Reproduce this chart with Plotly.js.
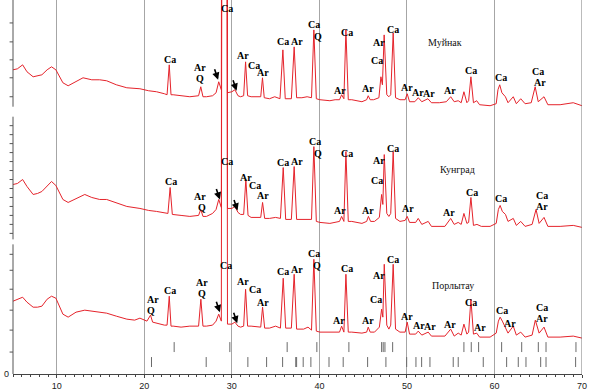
<!DOCTYPE html>
<html><head><meta charset="utf-8">
<script src="https://cdn.plot.ly/plotly-3.0.1.min.js"></script>
<style>html,body{margin:0;padding:0;background:#fff}#chart{width:595px;height:392px}</style>
</head><body><div id="chart"></div>
<script>
// 2-theta (deg) and intensity (shared stacked scale)
const muynakX = [5.0,5.5,6.1,6.6,7.3,7.8,8.3,8.9,9.4,9.9,10.7,11.3,12.0,13.0,14.0,14.9,15.7,16.8,18.0,19.5,20.5,21.4,22.3,22.6,22.85,23.05,23.3,24.2,25.2,26.2,26.45,26.7,27.1,27.8,28.2,28.5,28.8,29.17,29.5,30.0,30.35,30.7,31.0,31.35,31.57,31.8,32.2,33.3,33.5,33.7,34.3,34.9,35.5,35.83,36.1,36.8,37.12,37.4,38.0,38.6,39.1,39.37,39.65,40.06,41.2,41.8,42.3,42.54,42.8,43.03,43.3,43.7,44.86,45.4,45.58,45.8,46.2,46.8,47.03,47.2,47.4,47.7,47.94,48.15,48.43,48.7,49.2,49.8,50.03,50.3,50.9,51.3,51.7,52.4,52.8,53.7,54.5,55.0,55.4,55.86,56.2,56.51,56.85,57.05,57.31,57.6,57.97,58.3,59.5,60.2,60.4,60.6,60.85,61.25,61.55,62.15,62.5,63.0,63.5,64.2,64.65,65.0,65.66,66.1,67.5,69.0,70.0];
const muynakY = [305,306,310,303,298,299,300,305,308,305,292,289,292,297,295,295,294,290,287,286,284,283,281,280,310,280,280,279,278,279,288,278,278,279,282,293,285,3000,282,283,285,279,278,279,313,279,278,278,297,277,276,278,276,325,276,276,328,277,277,278,277,345,276,275,274,275,275,280,276,345,275,275,273,275,279,275,275,277,298,290,340,280,278,280,342,277,275,275,281,273,273,277,273,276,272,272,273,278,273,274,272,283,272,274,298,272,274,270,269,271,285,290,282,278,272,278,271,276,271,272,288,273,278,270,270,272,269];

const kungradX = [5.0,5.5,6.1,6.6,7.3,7.8,8.3,8.9,9.4,9.9,10.7,11.3,12.2,13.2,14.0,14.9,15.7,16.8,18.0,19.5,20.5,21.4,22.3,22.7,22.95,23.2,24.2,25.2,26.2,26.45,26.7,27.1,27.8,28.2,28.5,28.8,29.17,29.5,30.0,30.35,30.7,31.0,31.35,31.6,31.85,32.2,33.3,33.51,33.75,34.3,35.0,35.55,35.87,36.15,36.8,37.12,37.4,38.2,39.1,39.37,39.65,40.06,41.2,42.3,42.54,42.8,43.03,43.3,43.7,44.86,45.4,45.6,45.85,46.3,46.85,47.11,47.25,47.41,47.7,47.94,48.15,48.43,48.7,49.2,49.8,50.03,50.3,51.0,51.29,51.7,52.43,52.8,54.34,55.0,55.4,55.86,56.2,56.51,56.85,57.05,57.31,57.6,58.0,58.5,59.5,60.2,60.45,60.65,60.9,61.26,61.55,62.15,62.5,63.0,63.5,64.3,64.75,65.1,65.66,66.1,67.5,69.0,70.0];
const kungradY = [190,191,195,188,180,181,183,189,193,189,175,172,176,180,177,175,175,172,168,166,164,163,162,161,187,160,159,158,159,165,158,158,161,165,175,167,3000,166,166,168,162,160,160,195,159,157,157,172,156,156,157,156,207,155,155,208,155,155,155,228,153,152,151,153,158,153,223,153,153,151,153,158,153,153,157,180,170,220,161,158,161,223,156,153,154,158,152,152,156,150,153,148,148,156,150,152,150,161,151,152,177,149,150,148,148,151,165,169,163,160,153,156,149,153,148,150,165,151,157,148,148,149,147];

const porlytauX = [5.0,5.5,6.1,6.6,7.3,7.8,8.3,8.9,9.4,9.9,10.7,11.3,12.2,13.2,14.3,15.7,16.8,18.0,18.9,19.5,20.3,20.71,20.95,21.8,22.3,22.6,22.85,23.05,23.3,24.2,25.2,26.2,26.46,26.7,27.1,27.8,28.2,28.5,28.8,29.17,29.5,30.0,30.35,30.7,31.0,31.35,31.57,31.8,32.2,33.3,33.51,33.75,34.3,35.0,35.55,35.87,36.15,36.8,37.12,37.4,38.2,38.7,39.1,39.37,39.65,40.06,41.2,42.3,42.54,42.8,43.03,43.3,43.7,44.86,45.4,45.58,45.8,46.3,46.85,47.11,47.25,47.41,47.7,47.94,48.15,48.43,48.7,49.2,49.8,50.03,50.3,51.0,51.29,51.7,52.43,52.8,54.34,55.0,55.4,55.86,56.2,56.51,56.85,57.05,57.31,57.6,57.97,58.3,59.5,60.2,60.45,60.65,60.9,61.26,61.55,62.15,62.5,63.0,63.5,64.3,64.67,65.1,65.66,66.1,67.5,69.0,70.0];
const porlytauY = [73,75,77,72,67,67,68,75,78,76,60,57,62,64,63,61,58,55,54,56,53,59,52,50,49,49,78,48,48,47,48,48,75,48,48,49,53,60,53,3000,50,50,52,48,47,48,85,48,48,47,67,46,46,48,46,96,46,46,100,45,45,47,44,115,43,42,42,42,48,42,100,42,42,41,42,47,42,42,47,65,57,110,49,45,49,110,45,42,42,52,40,40,43,39,42,38,38,45,38,41,39,50,40,42,75,40,41,37,37,41,53,57,53,47,41,48,39,42,37,39,54,41,47,37,37,38,36];

// reference stick patterns (2-theta)
const row1Sticks = [23.41,29.77,36.32,39.71,43.37,47.11,47.29,47.49,48.37,56.51,57.35,58.19,60.82,63.11,65.01,65.89,69.31];
const row2Sticks = [20.82,27.07,31.83,33.97,35.8,37.3,37.4,38.15,39.03,41.1,42.72,45.51,47.6,49.97,51.03,51.68,52.63,55.29,55.86,58.72,61.39,62.72,63.6,65.28,65.89,69.27];

const xTickVals = [10,20,30,40,50,60,70];
const xTickText = ['10','20','30','40','50','60','70'];

// phase labels
const labelX = [22.91,26.34,26.34,29.43,31.26,32.55,33.54,35.83,37.43,39.37,39.83,42.34,43.14,45.54,46.8,46.57,48.4,50.0,51.26,52.51,54.91,57.31,60.74,64.97,65.2,
  23.03,26.34,26.57,29.43,31.6,32.7,33.54,35.83,37.43,39.49,39.83,42.34,43.14,45.54,46.8,46.57,48.4,50.11,54.8,57.43,60.74,65.43,65.43,
  20.97,20.74,22.91,26.57,26.57,29.31,31.26,32.7,33.54,35.83,37.43,39.37,39.71,42.23,43.14,45.54,46.8,46.46,48.4,50.0,51.37,52.63,54.91,57.31,58.34,60.86,61.77,65.43,65.43];
const labelY = [315,307,296,366,319,309,302,333,333,350,338,284,342,286,332,314,345,287,282,281,284,304,297,303,292,
  193,178,167,213,197,189,179,212,213,233,221,164,221,164,214,194,226,166,162,182,176,179,168,
  75,64,84,92,81,109,93,85,72,103,105,121,109,54,106,54,99,75,115,58,49,48,50,72,47,64,51,67,56];
const labelText = ['Ca','Ar','Q','Ca','Ar','Ca','Ar','Ca','Ar','Ca','Q','Ar','Ca','Ar','Ar','Ca','Ca','Ar','Ar','Ar','Ar','Ca','Ca','Ca','Ar',
  'Ca','Ar','Q','Ca','Ar','Ca','Ar','Ca','Ar','Ca','Q','Ar','Ca','Ar','Ar','Ca','Ca','Ar','Ar','Ca','Ca','Ca','Ar',
  'Ar','Q','Ca','Ar','Q','Ca','Ar','Ca','Ar','Ca','Ar','Ca','Q','Ar','Ca','Ar','Ar','Ca','Ca','Ar','Ar','Ar','Ar','Ca','Ar','Ca','Ar','Ca','Ar'];

const sampleNames = ['Муйнак','Кунград','Порлытау'];
const sampleNameX = [54.34,55.83,55.26];
const sampleNameY = [332,205,89];

const arrowX = [28.43,30.54,28.63,30.65,28.63,30.61];
const arrowY = [295,284,175,164,62,51];

// left axis segments (y ranges) and their ticks
const axisSegments = [[268,375],[135,258],[0,130]];
const axisTicks = [352,333,315,297,278, 249,240,231,222,213,204,195,186,177,168,159,150,141, 120,104,85,64,44,22];

const RED = '#e5232b';
const traces = [
  {x: muynakX, y: muynakY, name: sampleNames[0]},
  {x: kungradX, y: kungradY, name: sampleNames[1]},
  {x: porlytauX, y: porlytauY, name: sampleNames[2]}
].map(t => Object.assign(t, {type:'scatter', mode:'lines', line:{color:RED, width:1}, hoverinfo:'skip', showlegend:false}));

function sticks(pos, y0, y1) {
  const xs = [], ys = [];
  pos.forEach(p => { xs.push(p, p, null); ys.push(y0, y1, null); });
  return {type:'scatter', mode:'lines', x: xs, y: ys, line:{color:'#6a6a6a', width:1}, hoverinfo:'skip', showlegend:false};
}
traces.push(sticks(row1Sticks, 22, 32));
traces.push(sticks(row2Sticks, 7, 17));

const annotations = [];
labelText.forEach((t, i) => annotations.push({x: labelX[i], y: labelY[i], text: '<b>' + t + '</b>', showarrow: false,
  font: {family: 'Liberation Serif', size: 10, color: '#000'}, xanchor: 'center', yanchor: 'middle', borderpad: 0}));
sampleNames.forEach((t, i) => annotations.push({x: sampleNameX[i], y: sampleNameY[i], text: t, showarrow: false,
  font: {family: 'Liberation Serif', size: 10, color: '#111'}}));
arrowX.forEach((x, i) => annotations.push({x: x, y: arrowY[i], text: '', showarrow: true, ax: -4, ay: -12,
  arrowhead: 2, arrowsize: 0.9, arrowwidth: 1.6, arrowcolor: '#000'}));
annotations.push({xref: 'paper', yref: 'paper', x: -0.004, y: 0, text: '0', showarrow: false, xanchor: 'right', yanchor: 'middle',
  font: {family: 'Liberation Sans', size: 9, color: '#222'}});

const shapes = [];
axisSegments.forEach(s => shapes.push({type: 'line', xref: 'paper', yref: 'y', x0: 0, x1: 0, y0: s[0], y1: s[1], line: {color: '#555', width: 1}}));
axisTicks.forEach(v => shapes.push({type: 'line', xref: 'paper', yref: 'y', x0: -0.006, x1: 0, y0: v, y1: v, line: {color: '#555', width: 1}}));
shapes.push({type: 'line', xref: 'x', yref: 'paper', x0: 70, x1: 70, y0: 0, y1: 1, line: {color: '#777', width: 1}});

const layout = {
  width: 595, height: 392,
  margin: {l: 13, r: 13, t: 0, b: 18},
  paper_bgcolor: '#fff', plot_bgcolor: '#fff',
  xaxis: {range: [5, 70], tickvals: xTickVals, ticktext: xTickText, ticks: 'outside', ticklen: 3, tickcolor: '#444',
    showline: true, linecolor: '#444', linewidth: 1, showgrid: true, gridcolor: '#a6a6a6', gridwidth: 1, zeroline: false,
    ticklabelstandoff: 0,
    tickfont: {family: 'Liberation Sans', size: 9, color: '#222'},
    minor: {dtick: 1, ticks: 'outside', ticklen: 2, tickcolor: '#444', showgrid: false}, fixedrange: true},
  yaxis: {range: [0, 375], visible: false, fixedrange: true},
  annotations: annotations,
  shapes: shapes
};
Plotly.newPlot('chart', traces, layout, {staticPlot: true, displayModeBar: false});
</script>
</body></html>
